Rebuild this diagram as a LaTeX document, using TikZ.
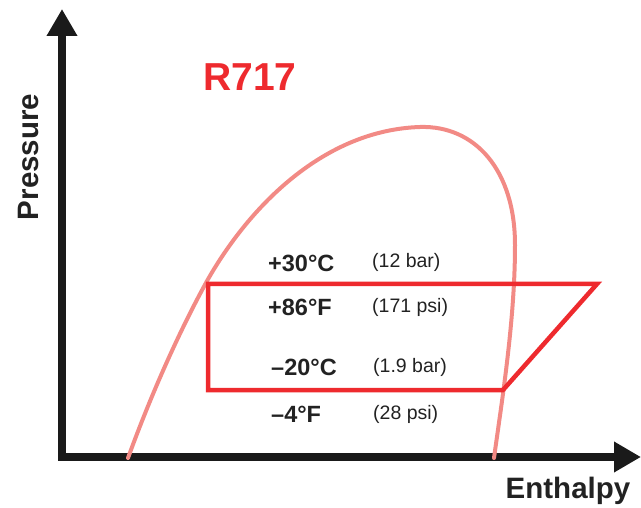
\documentclass[tikz,border=0pt]{standalone}
\usepackage{fontspec}
\setmainfont{Liberation Sans}
\usetikzlibrary{arrows.meta}
\definecolor{cycred}{HTML}{EE2A2E}
\definecolor{domered}{HTML}{F28A85}
\definecolor{axisblack}{HTML}{1A1A1A}
\definecolor{txt}{HTML}{222222}
\tikzset{
  axisline/.style={line width=7.5pt, axisblack, -{Triangle[length=27pt,width=29pt]}, line join=miter},
  dome/.style={line width=4pt, domered, line cap=round, line join=round},
  cycle/.style={line width=4.5pt, cycred, line join=miter},
  templabel/.style={anchor=west, inner sep=0pt, text=txt, font=\fontsize{23.5}{24}\selectfont\bfseries},
  preslabel/.style={anchor=west, inner sep=0pt, text=txt, font=\fontsize{19.5}{20}\selectfont},
  axislabel/.style={inner sep=0pt, text=txt, font=\fontsize{29.5}{30}\selectfont\bfseries},
}
\begin{document}
\begin{tikzpicture}[x=1pt,y=-1pt]
\useasboundingbox (0,0) rectangle (641,508);
% axes
\coordinate (ytip) at (62,9);
\coordinate (origin) at (62,457);
\coordinate (xtip) at (641,457);
\draw[line width=7.5pt, axisblack, line join=miter] (62,40) -- (origin) -- (615,457);
\draw[axisline] (62,60) -- (ytip);
\draw[axisline] (600,457) -- (xtip);
\node[axislabel, rotate=90] (pres) at (28,157) {Pressure};
\node[axislabel] (enth) at (568,491) {Enthalpy};
% saturation dome
\coordinate (d0) at (128,458);
\coordinate (d1) at (207,281);
\coordinate (d2) at (420,127);
\coordinate (d3) at (515,245);
\coordinate (d4) at (494,458);
\draw[dome] (d0) .. controls (152,392) and (180,330) .. (d1)
  .. controls (250,205) and (325,130) .. (d2)
  .. controls (475,125.3) and (515,170) .. (d3)
  .. controls (515,320) and (502,400) .. (d4);
% refrigerant name
\node[inner sep=0pt, text=cycred, font=\fontsize{39}{39}\selectfont\bfseries] (name) at (250,77) {R717};
% cycle
\coordinate (c1) at (208,284);
\coordinate (c2) at (597,284);
\coordinate (c3) at (503,390);
\coordinate (c4) at (208,390);
\draw[cycle] (c1) -- (c2) -- (c3) -- (c4) -- cycle;
% labels
\node[templabel] (t1) at (268,263) {+30°C};
\node[preslabel] (p1) at (372,262) {(12 bar)};
\node[templabel] (t2) at (268,307) {+86°F};
\node[preslabel] (p2) at (372,307) {(171 psi)};
\node[templabel] (t3) at (271,367) {–20°C};
\node[preslabel] (p3) at (373,367) {(1.9 bar)};
\node[templabel] (t4) at (271,414) {–4°F};
\node[preslabel] (p4) at (373,414) {(28 psi)};
\end{tikzpicture}
\end{document}
